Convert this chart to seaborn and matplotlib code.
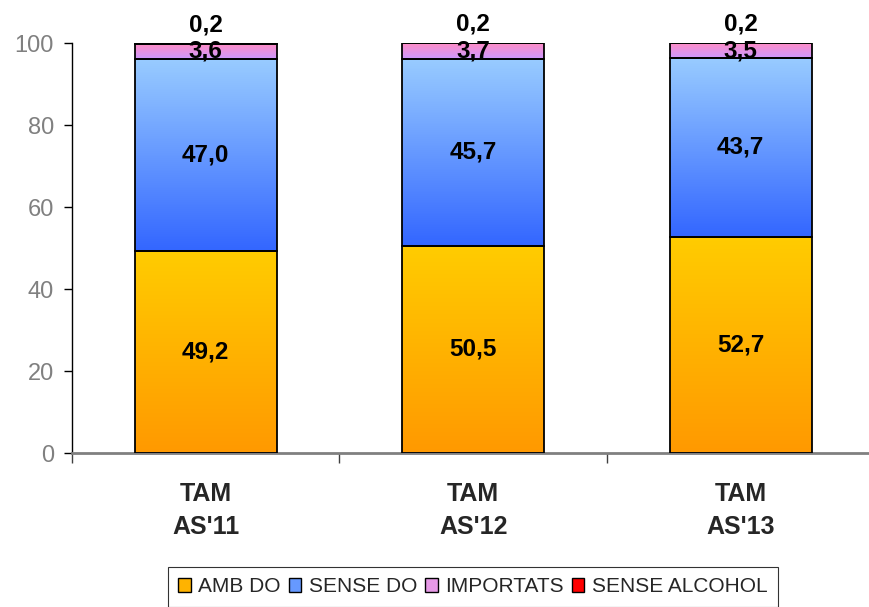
import numpy as np
import pandas as pd
import matplotlib
matplotlib.use("Agg")
import matplotlib.pyplot as plt
from matplotlib.colors import LinearSegmentedColormap
from matplotlib.patches import Patch
import seaborn as sns

categories = ["TAM\nAS'11", "TAM\nAS'12", "TAM\nAS'13"]
series_names = ["AMB DO", "SENSE DO", "IMPORTATS", "SENSE ALCOHOL"]
amb_do = [49.2, 50.5, 52.7]
sense_do = [47.0, 45.7, 43.7]
importats = [3.6, 3.7, 3.5]
sense_alcohol = [0.2, 0.2, 0.2]
label_amb_do = ["49,2", "50,5", "52,7"]
label_sense_do = ["47,0", "45,7", "43,7"]
label_importats = ["3,6", "3,7", "3,5"]
label_sense_alcohol = ["0,2", "0,2", "0,2"]
yticks = [0, 20, 40, 60, 80, 100]

sns.set_style("white")
plt.rcParams['font.family'] = ['Liberation Sans', 'DejaVu Sans']

# gradients: (top colour, bottom colour)
grads = [("#FFCC00", "#FF9900"), ("#99CCFF", "#3366FF"), ("#FF8CC6", "#CC99FF"), ("#FF0000", "#FF0000")]
legend_cols = ["#FFB300", "#6699FF", "#E699E6", "#FF0000"]

fig = plt.figure(figsize=(8.69, 6.07), dpi=100)
ax = fig.add_axes([72/869, 154/607, 797/869, 410/607])

data = [amb_do, sense_do, importats, sense_alcohol]
labels = [label_amb_do, label_sense_do, label_importats, label_sense_alcohol]
bottoms = np.zeros(len(categories))
width = 142/267.5
seg_patches = []
for i, vals in enumerate(data):
    df = pd.DataFrame({"cat": categories, "val": vals})
    n_before = len(ax.patches)
    sns.barplot(data=df, x="cat", y="val", bottom=bottoms, width=width, color="white",
                facecolor="none", edgecolor="black", linewidth=1.3, ax=ax, zorder=3,
                saturation=1)
    new = ax.patches[n_before:]
    seg_patches.append(new)
    bottoms = bottoms + np.array(vals)

for i, plist in enumerate(seg_patches):
    top_c, bot_c = grads[i]
    cmap = LinearSegmentedColormap.from_list("g%d" % i, [bot_c, top_c])
    for p in plist:
        x0, y0 = p.get_x(), p.get_y()
        w, h = p.get_width(), p.get_height()
        grad = np.linspace(0, 1, 256).reshape(-1, 1)
        im = ax.imshow(grad, cmap=cmap, origin="lower", aspect="auto",
                       extent=[x0, x0 + w, y0, y0 + h], zorder=2, interpolation="bilinear")
        im.set_clip_path(p)

# labels
cum = np.zeros(len(categories))
for i, vals in enumerate(data):
    for j, v in enumerate(vals):
        if i == 3:
            ypos = cum[j] + v + 4.5
        else:
            ypos = cum[j] + v / 2
        ax.text(j, ypos, labels[i][j], ha="center", va="center", fontsize=17.5,
                fontweight="bold", color="black", zorder=5)
    cum = cum + np.array(vals)

ax.set_xlim(-0.5, 2.48)
ax.set_ylim(0, 100)
ax.set_yticks(yticks)
ax.set_yticklabels([str(t) for t in yticks], color="#808080", fontsize=17)
ax.tick_params(axis="y", direction="out", length=6, width=1, color="black", left=True, pad=7)
ax.set_xticks(range(len(categories)))
ax.set_xticklabels(categories, fontsize=18, fontweight="bold", linespacing=1.45)
ax.tick_params(axis="x", which="major", length=0, pad=21)
ax.set_xticks([-0.5, 0.5, 1.5], minor=True)
ax.tick_params(axis="x", which="minor", direction="out", length=7, width=1, color="#404040", bottom=True)
ax.set_xlabel("")
ax.set_ylabel("")
for s in ["top", "right"]:
    ax.spines[s].set_visible(False)
ax.spines["left"].set_color("black")
ax.spines["left"].set_linewidth(1)
ax.spines["bottom"].set_color("#808080")
ax.spines["bottom"].set_linewidth(2)
ax.grid(False)

handles = [Patch(facecolor=c, edgecolor="black", linewidth=1) for c in legend_cols]
leg = fig.legend(handles, series_names, loc="upper center", bbox_to_anchor=(0.544, 0.066),
                 ncol=4, frameon=True, fancybox=False, edgecolor="black", fontsize=15,
                 handlelength=0.6, handleheight=0.6, handletextpad=0.35, columnspacing=0.4,
                 borderpad=0.5, borderaxespad=0)
leg.get_frame().set_linewidth(0.8)

fig.savefig("out.png", dpi=100)
